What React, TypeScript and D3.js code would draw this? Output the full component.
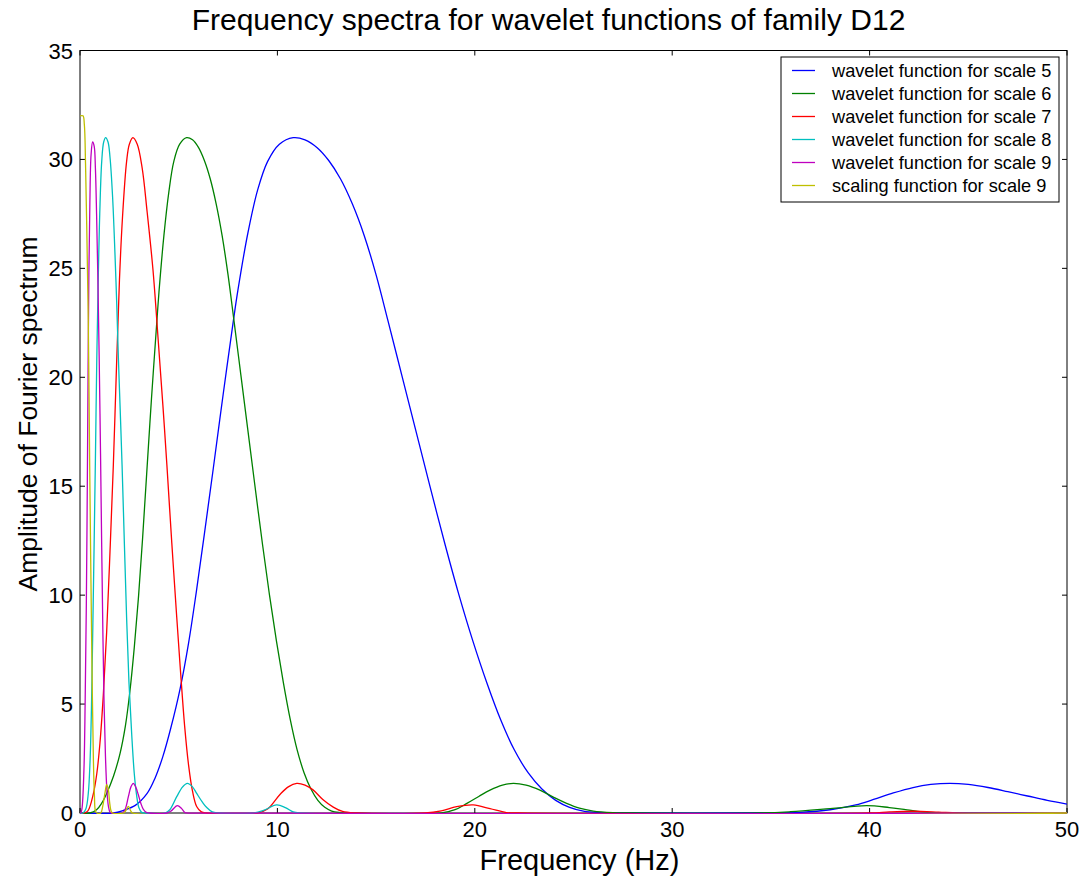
import React from "react";
import * as d3 from "d3";

type Pt = [number, number];

const xTicks = [0, 10, 20, 30, 40, 50];
const yTicks = [0, 5, 10, 15, 20, 25, 30, 35];

const seriesNames = [
  "wavelet function for scale 5",
  "wavelet function for scale 6",
  "wavelet function for scale 7",
  "wavelet function for scale 8",
  "wavelet function for scale 9",
  "scaling function for scale 9",
];
const seriesColors = ["#0000ff", "#008000", "#ff0000", "#00bfbf", "#bf00bf", "#bfbf00"];

const waveletScale5: Pt[] = [
  [0, 0], [1.7, 0], [2.2, 0.12], [2.8, 0.35], [3.4, 0.9], [3.8, 1.6], [4.2, 2.6], [4.6, 3.9],
  [5.07, 5.7], [5.5, 7.8], [5.9, 10.2], [6.3, 12.8], [6.75, 15.8], [7.25, 19.2], [7.77, 22.6],
  [8.0, 24.0], [8.5, 26.6], [9.0, 28.6], [9.5, 29.9], [10.1, 30.7], [10.8, 31.0], [11.4, 30.9],
  [12.0, 30.55], [12.6, 29.95], [13.2, 29.1], [13.8, 27.95], [14.4, 26.5], [15.0, 24.7],
  [15.6, 22.6], [16.3, 20.1], [17.0, 17.6], [17.7, 15.1], [18.5, 12.3], [19.2, 10.0], [19.9, 7.9],
  [20.6, 6.0], [21.3, 4.3], [22.0, 2.9], [22.7, 1.85], [23.4, 1.1], [24.1, 0.58], [24.8, 0.26],
  [25.5, 0.09], [26.3, 0.02], [27, 0], [35, 0], [36.5, 0.03], [38, 0.15], [39.3, 0.37],
  [40.2, 0.62], [41.2, 0.92], [42.2, 1.17], [43.1, 1.31], [44.07, 1.36], [45, 1.31], [46, 1.17],
  [47, 0.98], [48, 0.78], [49, 0.58], [50, 0.41],
];

const waveletScale6: Pt[] = [
  [0, 0], [0.5, 0], [0.84, 0.15], [1.1, 0.45], [1.35, 0.9], [1.7, 1.7], [2.03, 2.74], [2.3, 4.0],
  [2.53, 5.6], [2.75, 7.6], [2.97, 10.0], [3.17, 12.6], [3.38, 15.6], [3.62, 19.0], [3.88, 22.4],
  [4.0, 23.9], [4.25, 26.5], [4.5, 28.5], [4.75, 29.9], [5.05, 30.7], [5.4, 31.0], [5.7, 30.9],
  [6.0, 30.55], [6.3, 29.95], [6.6, 29.1], [6.9, 27.95], [7.2, 26.5], [7.5, 24.7], [7.8, 22.6],
  [8.15, 20.1], [8.5, 17.6], [8.85, 15.1], [9.25, 12.3], [9.6, 10.0], [9.95, 7.9], [10.3, 6.0],
  [10.65, 4.3], [11.0, 2.9], [11.35, 1.85], [11.7, 1.1], [12.05, 0.58], [12.4, 0.26],
  [12.75, 0.09], [13.15, 0.02], [13.5, 0], [18.3, 0], [19.0, 0.15], [19.6, 0.44], [20.2, 0.76],
  [20.77, 1.05], [21.4, 1.28], [21.95, 1.36], [22.6, 1.28], [23.3, 1.05], [24.0, 0.72],
  [24.65, 0.44], [25.3, 0.22], [26, 0.09], [27, 0.02], [28, 0], [34.5, 0], [36, 0.06], [38, 0.2],
  [39.85, 0.34], [41, 0.25], [41.9, 0.14], [43, 0.02], [44, 0], [50, 0],
];

const waveletScale7: Pt[] = [
  [0, 0], [0.2, 0], [0.4, 0.1], [0.68, 0.9], [0.85, 1.8], [1.01, 3.2], [1.18, 5.4], [1.35, 8.3],
  [1.52, 12.0], [1.69, 16.0], [1.86, 20.8], [2.0, 24.5], [2.15, 27.3], [2.36, 29.9], [2.5, 30.7],
  [2.68, 31.0], [2.9, 30.7], [3.15, 29.6], [3.4, 27.6], [3.7, 24.9], [3.97, 21.6], [4.2, 18.7],
  [4.4, 16.0], [4.65, 12.4], [4.9, 9.0], [5.1, 6.4], [5.3, 4.0], [5.5, 2.2], [5.7, 1.0],
  [5.91, 0.3], [6.15, 0.05], [6.4, 0], [9, 0], [9.5, 0.18], [10.13, 0.85], [10.55, 1.2],
  [10.98, 1.36], [11.4, 1.28], [11.82, 1.05], [12.3, 0.62], [12.83, 0.27], [13.3, 0.07], [14, 0],
  [17.5, 0], [18.3, 0.1], [19.08, 0.29], [19.92, 0.37], [20.77, 0.2], [21.6, 0.02], [22.2, 0],
  [40, 0], [41, 0.05], [42.2, 0.08], [43.5, 0.04], [44.5, 0], [50, 0],
];

const waveletScale8: Pt[] = [
  [0, 0], [0.15, 0], [0.3, 0.2], [0.42, 0.9], [0.51, 2.4], [0.58, 4.8], [0.64, 8.0], [0.71, 12.0],
  [0.78, 16.2], [0.85, 20.8], [0.93, 24.8], [1.0, 27.5], [1.1, 29.9], [1.2, 30.8], [1.3, 31.0],
  [1.42, 30.8], [1.52, 30.1], [1.65, 28.3], [1.77, 25.7], [1.86, 23.4], [1.94, 21.0], [2.04, 18.4],
  [2.13, 16.0], [2.25, 12.3], [2.36, 9.0], [2.48, 6.0], [2.62, 3.6], [2.75, 1.8], [2.87, 0.8],
  [2.98, 0.25], [3.12, 0.03], [3.3, 0], [4.3, 0], [4.55, 0.15], [4.9, 0.75], [5.2, 1.2],
  [5.44, 1.36], [5.7, 1.2], [5.91, 0.9], [6.2, 0.5], [6.42, 0.25], [6.7, 0.05], [7, 0], [8.8, 0],
  [9.3, 0.12], [9.96, 0.37], [10.4, 0.25], [10.8, 0.05], [11.1, 0], [50, 0],
];

const waveletScale9: Pt[] = [
  [0, 0], [0.04, 0], [0.1, 0.2], [0.2, 2.0], [0.26, 5.0], [0.32, 9.5], [0.37, 15.0], [0.41, 20.5],
  [0.45, 24.8], [0.5, 28.0], [0.56, 30.2], [0.64, 30.8], [0.72, 30.6], [0.78, 29.6], [0.84, 27.5],
  [0.9, 24.8], [0.97, 21.0], [1.04, 16.5], [1.1, 12.2], [1.16, 8.2], [1.22, 5.0], [1.29, 2.6],
  [1.36, 1.1], [1.44, 0.3], [1.52, 0.04], [1.6, 0], [2.15, 0], [2.3, 0.2], [2.45, 0.75],
  [2.58, 1.2], [2.7, 1.36], [2.82, 1.2], [2.95, 0.85], [3.08, 0.45], [3.21, 0.17], [3.38, 0.02],
  [3.5, 0], [4.4, 0], [4.6, 0.08], [4.93, 0.34], [5.15, 0.2], [5.32, 0.02], [5.45, 0], [50, 0],
];

const scalingScale9: Pt[] = [
  [0, 32.0], [0.15, 32.0], [0.22, 31.6], [0.28, 29.8], [0.34, 27.0], [0.42, 22.6], [0.49, 16.0],
  [0.55, 11.0], [0.61, 6.5], [0.68, 2.4], [0.73, 0.8], [0.78, 0.1], [0.85, 0], [1.05, 0],
  [1.15, 0.3], [1.27, 0.95], [1.35, 1.3], [1.44, 1.05], [1.5, 0.5], [1.58, 0.08], [1.65, 0],
  [2.2, 0], [2.3, 0.08], [2.45, 0.3], [2.58, 0.08], [2.68, 0], [50, 0],
];

const seriesData = [waveletScale5, waveletScale6, waveletScale7, waveletScale8, waveletScale9, scalingScale9];

const W = 1083;
const H = 879;
const FONT = "'Liberation Sans', Arial, sans-serif";

export default function App() {
  const x = d3.scaleLinear().domain([0, 50]).range([80, 1067]);
  const y = d3.scaleLinear().domain([0, 35]).range([813, 50.5]);
  const line = d3
    .line<Pt>()
    .x((d) => x(d[0]))
    .y((d) => y(d[1]))
    .curve(d3.curveCatmullRom.alpha(0.5));

  const [x0, x1] = x.range();
  const [y0, y1] = y.range();
  const tickLen = 5;

  const legX = 781;
  const legY = 57;
  const legW = 278;
  const legH = 145;
  const rowH = 23;

  return (
    <svg
      width={W}
      height={H}
      style={{ position: "absolute", left: 0, top: 0, background: "#fff" }}
      fontFamily={FONT}
    >
      <rect x={0} y={0} width={W} height={H} fill="#fff" />
      <defs>
        <clipPath id="plotclip">
          <rect x={x0} y={y1} width={x1 - x0} height={y0 - y1 + 1} />
        </clipPath>
      </defs>
      <text x={(x0 + x1) / 2 - 25} y={30} textAnchor="middle" fontSize={30} fill="#000">
        Frequency spectra for wavelet functions of family D12
      </text>

      {xTicks.map((t) => (
        <g key={"xt" + t}>
          <line x1={x(t)} x2={x(t)} y1={y0} y2={y0 - tickLen} stroke="#000" />
          <line x1={x(t)} x2={x(t)} y1={y1} y2={y1 + tickLen} stroke="#000" />
          <text x={x(t)} y={837} textAnchor="middle" fontSize={22} fill="#000">
            {t}
          </text>
        </g>
      ))}
      {yTicks.map((t) => (
        <g key={"yt" + t}>
          <line x1={x0} x2={x0 + tickLen} y1={y(t)} y2={y(t)} stroke="#000" />
          <line x1={x1} x2={x1 - tickLen} y1={y(t)} y2={y(t)} stroke="#000" />
          <text x={73} y={y(t) + 8} textAnchor="end" fontSize={22} fill="#000">
            {t}
          </text>
        </g>
      ))}

      <rect x={x0} y={y1} width={x1 - x0} height={y0 - y1} fill="none" stroke="#000" strokeWidth={1} />

      <g clipPath="url(#plotclip)">
        {seriesData.map((d, i) => (
          <path key={i} d={line(d) || ""} fill="none" stroke={seriesColors[i]} strokeWidth={1.3} />
        ))}
      </g>

      <text x={(x0 + x1) / 2 + 6} y={870} textAnchor="middle" fontSize={29} fill="#000">
        Frequency (Hz)
      </text>
      <text
        transform={`translate(37, 414) rotate(-90)`}
        textAnchor="middle"
        fontSize={26.5}
        fill="#000"
      >
        Amplitude of Fourier spectrum
      </text>

      <rect x={legX} y={legY} width={legW} height={legH} fill="#fff" stroke="#000" strokeWidth={1} />
      {seriesNames.map((n, i) => {
        const ry = legY + 13.5 + i * rowH;
        return (
          <g key={"leg" + i}>
            <line x1={792} x2={815} y1={ry} y2={ry} stroke={seriesColors[i]} strokeWidth={1.3} />
            <text x={832} y={ry + 6} fontSize={18.2} fill="#000">
              {n}
            </text>
          </g>
        );
      })}
    </svg>
  );
}
